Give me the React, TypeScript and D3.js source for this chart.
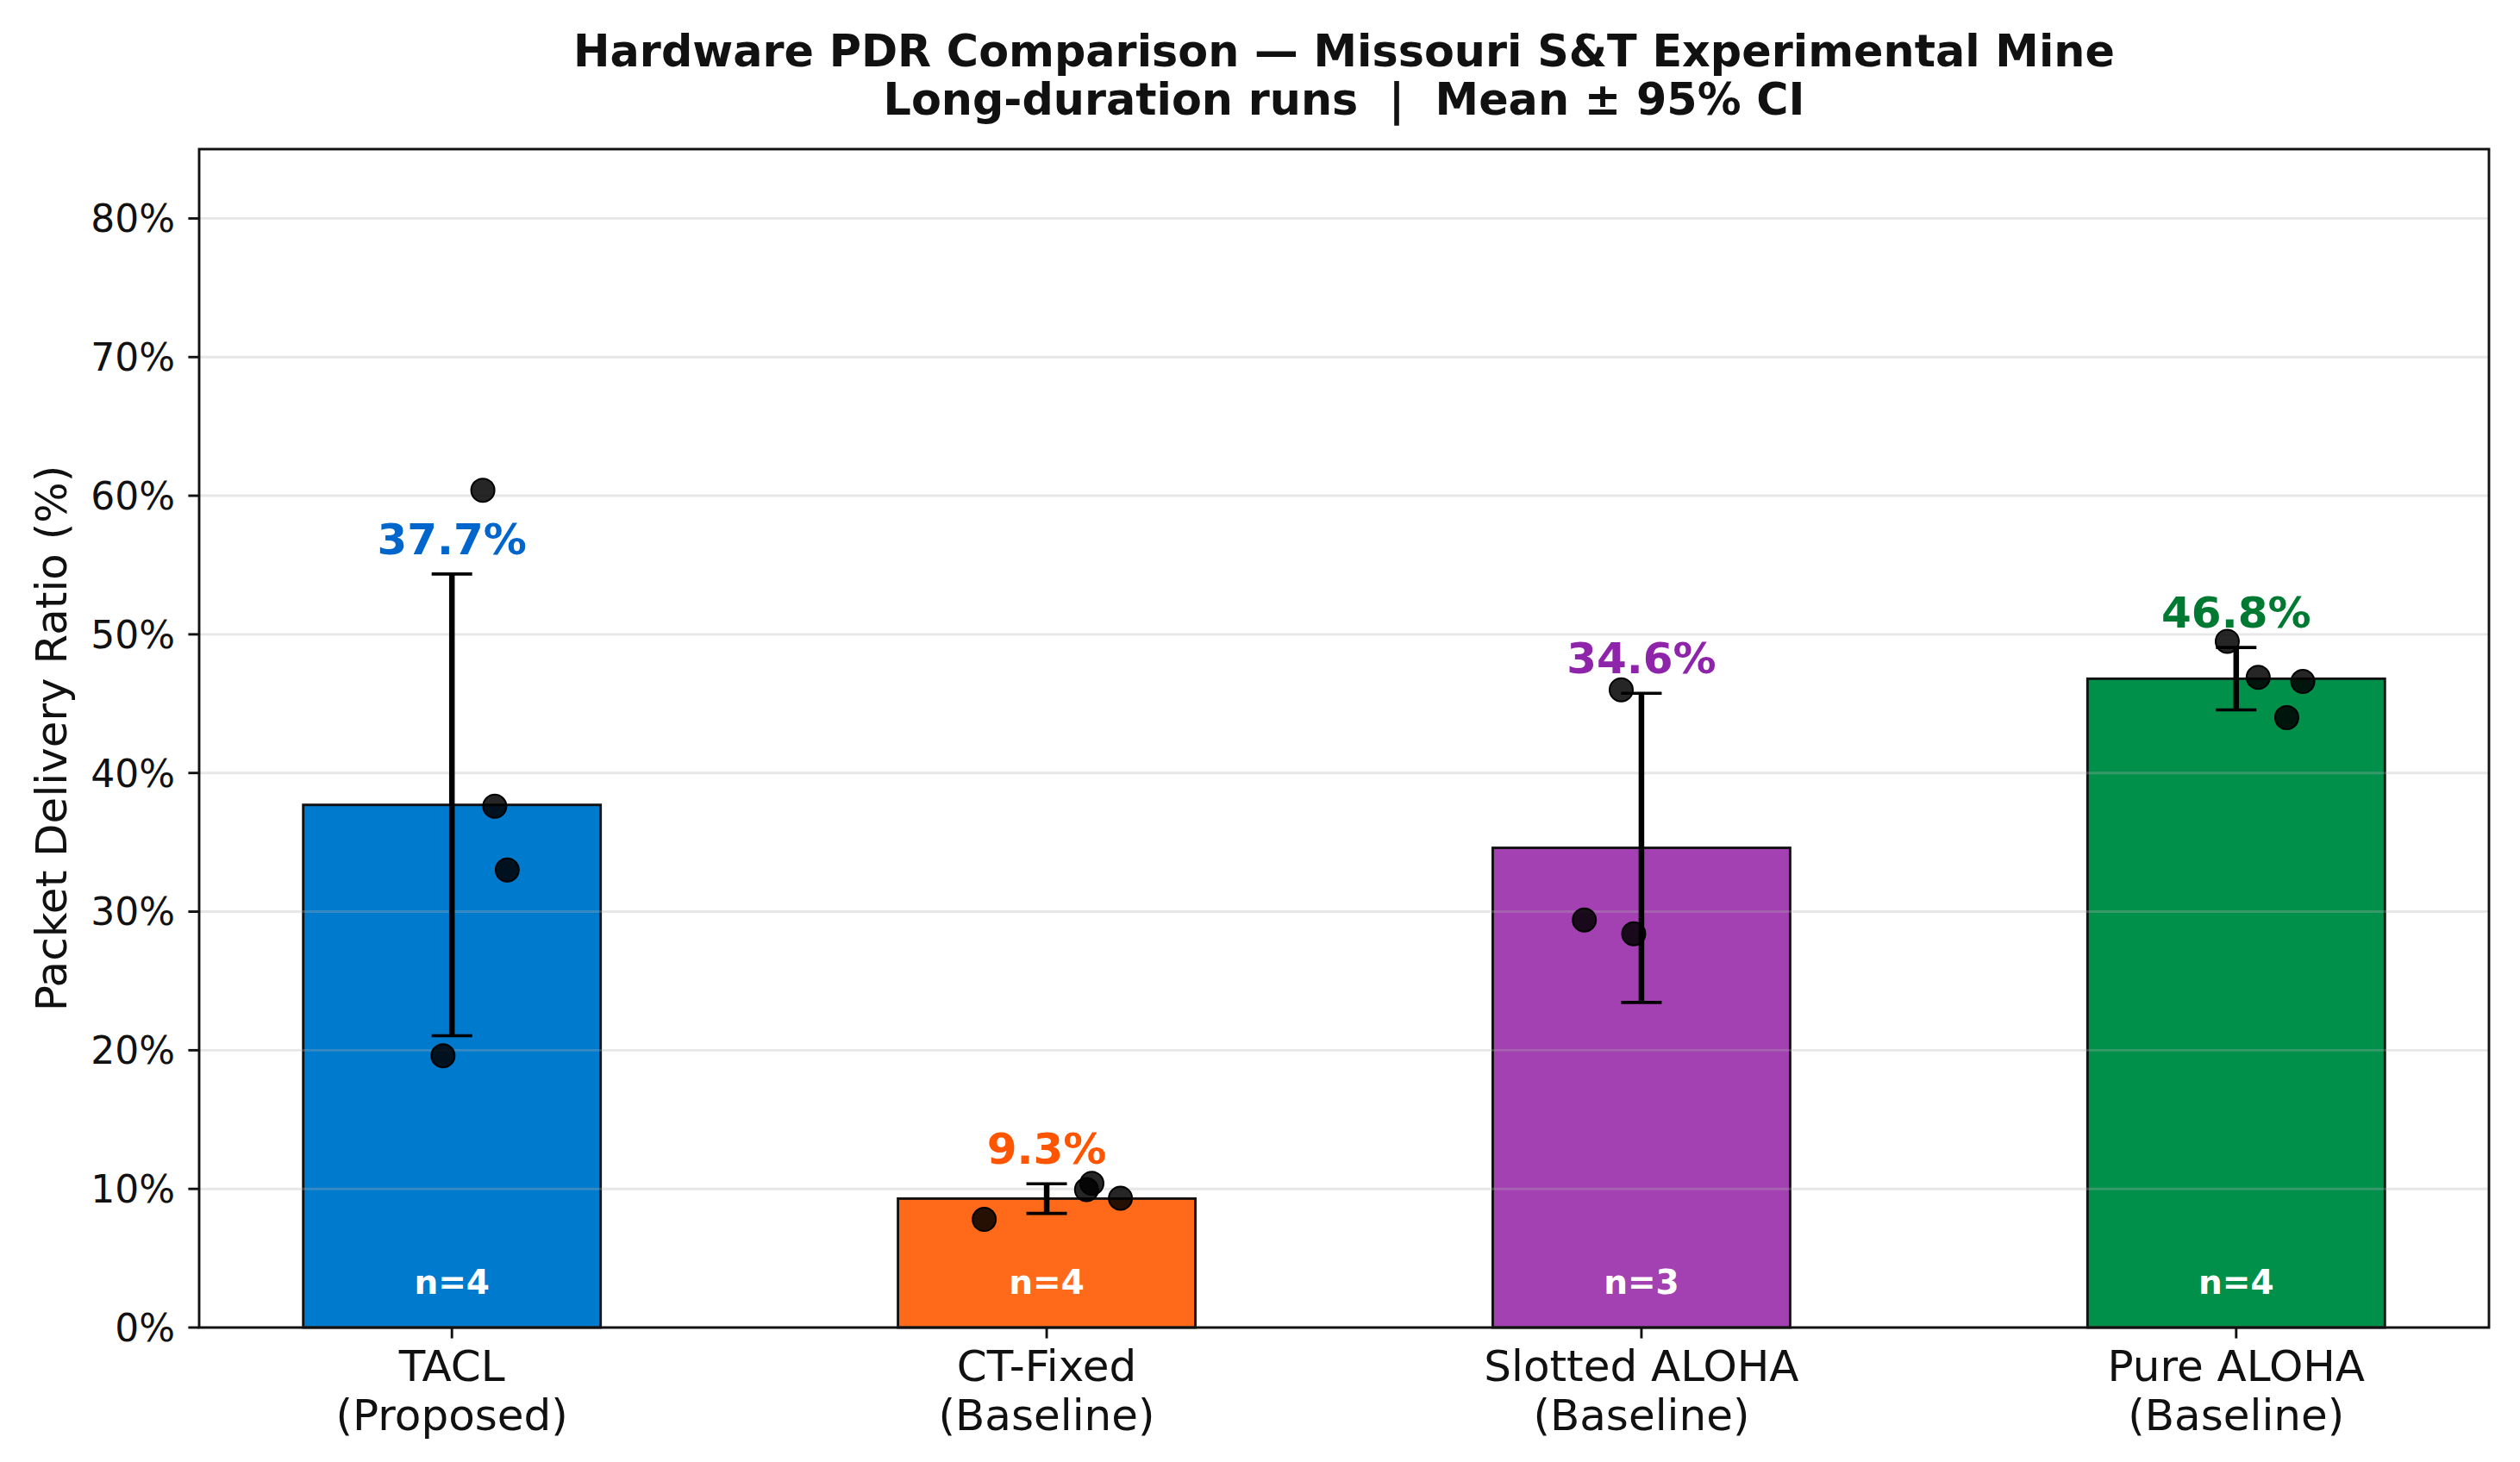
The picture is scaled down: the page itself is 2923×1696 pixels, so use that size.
import * as React from "react";
import { scaleLinear } from "d3";

// values
const categories = ["TACL", "CT-Fixed", "Slotted ALOHA", "Pure ALOHA"];
const subtitles = ["(Proposed)", "(Baseline)", "(Baseline)", "(Baseline)"];
const means = [37.7, 9.3, 34.6, 46.8];
const ciHalf = [16.65, 1.07, 11.15, 2.25];
const counts = [4, 4, 3, 4];
const runValues = [
  [60.4, 37.6, 33.0, 19.6],
  [7.8, 10.4, 9.95, 9.33],
  [46.0, 29.4, 28.4],
  [49.5, 46.9, 46.6, 44.0],
];
const runJitter = [
  [0.052, 0.072, 0.093, -0.015],
  [-0.105, 0.076, 0.067, 0.124],
  [-0.034, -0.096, -0.013],
  [-0.015, 0.037, 0.112, 0.085],
];
const barColors = ["#007acc", "#ff6a1a", "#a340b2", "#00904a"];
const labelColors = ["#0066cc", "#ff5500", "#8e24aa", "#007a33"];
const yTicks = [0, 10, 20, 30, 40, 50, 60, 70, 80];

const W = 2923;
const H = 1696;
const box = { left: 231, right: 2887, top: 173, bottom: 1540 };

export default function App() {
  React.useEffect(() => {
    document.body.style.margin = "0";
  }, []);

  const x = scaleLinear().domain([-0.425, 3.425]).range([box.left, box.right]);
  const y = scaleLinear().domain([0, 85]).range([box.bottom, box.top]);
  const barW = x(0.5) - x(0);
  const capW = 23.5;
  const font = "DejaVu Sans, sans-serif";

  return (
    <svg width={W} height={H} style={{ display: "block", background: "white" }} fontFamily={font}>
      {/* bars */}
      {means.map((m, i) => (
        <rect
          key={"bar" + i}
          x={x(i) - barW / 2}
          y={y(m)}
          width={barW}
          height={y(0) - y(m)}
          fill={barColors[i]}
          stroke="#111"
          strokeWidth={2.9}
        />
      ))}

      {/* grid above bars */}
      {yTicks.map((t) => (
        <line
          key={"g" + t}
          x1={box.left}
          x2={box.right}
          y1={y(t)}
          y2={y(t)}
          stroke="#b0b0b0"
          strokeOpacity={0.3}
          strokeWidth={2.9}
        />
      ))}

      {/* individual runs */}
      {runValues.map((vals, i) =>
        vals.map((v, j) => (
          <circle
            key={"p" + i + "-" + j}
            cx={x(i + runJitter[i][j])}
            cy={y(v)}
            r={13.5}
            fill="black"
            fillOpacity={0.85}
            stroke="black"
            strokeWidth={2}
          />
        ))
      )}

      {/* 95% CI */}
      {means.map((m, i) => {
        const cx = x(i);
        const lo = y(m - ciHalf[i]);
        const hi = y(m + ciHalf[i]);
        return (
          <g key={"e" + i} stroke="black">
            <line x1={cx} x2={cx} y1={lo} y2={hi} strokeWidth={6.5} />
            <line x1={cx - capW} x2={cx + capW} y1={lo} y2={lo} strokeWidth={3.6} />
            <line x1={cx - capW} x2={cx + capW} y1={hi} y2={hi} strokeWidth={3.6} />
          </g>
        );
      })}

      {/* value labels */}
      {means.map((m, i) => (
        <text
          key={"v" + i}
          x={x(i)}
          y={y(m + ciHalf[i]) - 23}
          textAnchor="middle"
          fontSize={50}
          fontWeight="bold"
          fill={labelColors[i]}
        >
          {m.toFixed(1)}%
        </text>
      ))}

      {/* n labels */}
      {counts.map((n, i) => (
        <text
          key={"n" + i}
          x={x(i)}
          y={y(0) - 39}
          textAnchor="middle"
          fontSize={39}
          fontWeight="bold"
          fill="white"
        >
          n={n}
        </text>
      ))}

      {/* frame */}
      <rect
        x={box.left}
        y={box.top}
        width={box.right - box.left}
        height={box.bottom - box.top}
        fill="none"
        stroke="#111"
        strokeWidth={2.9}
      />

      {/* y axis */}
      {yTicks.map((t) => (
        <g key={"yt" + t}>
          <line x1={box.left - 12.6} x2={box.left} y1={y(t)} y2={y(t)} stroke="#111" strokeWidth={2.9} />
          <text x={box.left - 28} y={y(t)} dy="0.36em" textAnchor="end" fontSize={44} fill="#111">
            {t}%
          </text>
        </g>
      ))}
      <text
        transform={`translate(77,${(box.top + box.bottom) / 2}) rotate(-90)`}
        textAnchor="middle"
        fontSize={50}
        fill="#111"
      >
        Packet Delivery Ratio (%)
      </text>

      {/* x axis */}
      {categories.map((c, i) => (
        <g key={"xt" + i}>
          <line x1={x(i)} x2={x(i)} y1={box.bottom} y2={box.bottom + 12.6} stroke="#111" strokeWidth={2.9} />
          <text x={x(i)} y={1602} textAnchor="middle" fontSize={50} fill="#111">
            {c}
          </text>
          <text x={x(i)} y={1659} textAnchor="middle" fontSize={50} fill="#111">
            {subtitles[i]}
          </text>
        </g>
      ))}

      {/* title */}
      <text x={(box.left + box.right) / 2} y={77} textAnchor="middle" fontSize={50.8} fontWeight="bold" fill="#111">
        Hardware PDR Comparison — Missouri S&amp;T Experimental Mine
      </text>
      <text
        x={(box.left + box.right) / 2}
        y={133}
        textAnchor="middle"
        fontSize={50.8}
        fontWeight="bold"
        fill="#111"
        style={{ whiteSpace: "pre" }}
      >
        {"Long-duration runs  |  Mean ± 95% CI"}
      </text>
    </svg>
  );
}
